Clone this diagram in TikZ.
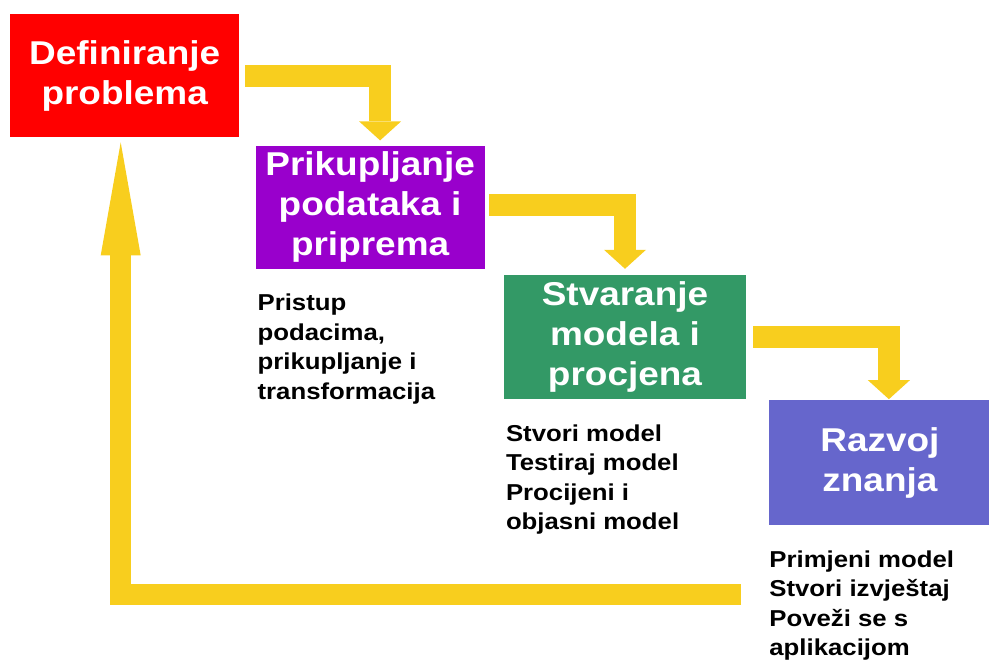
\documentclass[tikz,border=0pt]{standalone}
\usepackage{fontspec}
\setmainfont{Liberation Sans}[FakeStretch=1.12]
\usepackage{tikz}
\usetikzlibrary{arrows.meta,positioning,calc}
\definecolor{flowyellow}{HTML}{F8CE1E}
\definecolor{stepred}{HTML}{FF0000}
\definecolor{steppurple}{HTML}{9900CC}
\definecolor{stepgreen}{HTML}{339966}
\definecolor{stepblue}{HTML}{6666CC}
\tikzstyle{stage}=[rectangle,inner sep=0pt,text=white,align=center,minimum height=123pt,font=\bfseries\fontsize{33}{40}\selectfont]
\tikzstyle{note}=[inner sep=0pt,align=left,font=\bfseries\fontsize{23}{29.5}\selectfont]
\tikzstyle{flow}=[draw=flowyellow,line width=22pt,line join=miter,-{Triangle[width=42pt,length=19pt,line width=0pt]}]

\begin{document}
\begin{tikzpicture}[x=1pt,y=-1pt]
\useasboundingbox (0,0) rectangle (989,660);
\node [stage,fill=stepred,minimum width=229pt,anchor=north west] (def) at (10,14) {Definiranje\\problema};
\node [stage,fill=steppurple,minimum width=229pt,below right=8pt and 16pt of def.south east] (prik) {Prikupljanje\\podataka i\\priprema};
\node [stage,fill=stepgreen,minimum width=242pt,minimum height=124pt,below right=6pt and 19pt of prik.south east] (stv) {Stvaranje\\modela i\\procjena};
\node [stage,fill=stepblue,minimum width=221pt,minimum height=125pt,below right=1pt and 23pt of stv.south east] (razv) {Razvoj\\znanja};
\node [note,below right=25pt and 2pt of prik.south west] (prikn) {Pristup\\podacima,\\prikupljanje i\\transformacija};
\node [note,below right=25pt and 2pt of stv.south west] (stvn) {Stvori model\\Testiraj model\\Procijeni i\\objasni model};
\node [note,below right=25pt and 0pt of razv.south west] (razvn) {Primjeni model\\Stvori izvještaj\\Poveži se s\\aplikacijom};
\coordinate (back) at (741,594.5);
\draw [flow] ([xshift=6pt]def.east) -| ([xshift=10pt,yshift=5pt]prik.north);
\draw [flow] ([xshift=4pt,yshift=2pt]prik.east) -| ([yshift=6pt]stv.north);
\draw [flow] ([xshift=7pt]stv.east) -| ([xshift=9pt,yshift=1pt]razv.north);
\draw [flow,line width=21pt,-{Triangle[width=40pt,length=113pt,line width=0pt]}] (back) -| ([xshift=-4pt,yshift=-5pt]def.south);
\end{tikzpicture}
\end{document}
